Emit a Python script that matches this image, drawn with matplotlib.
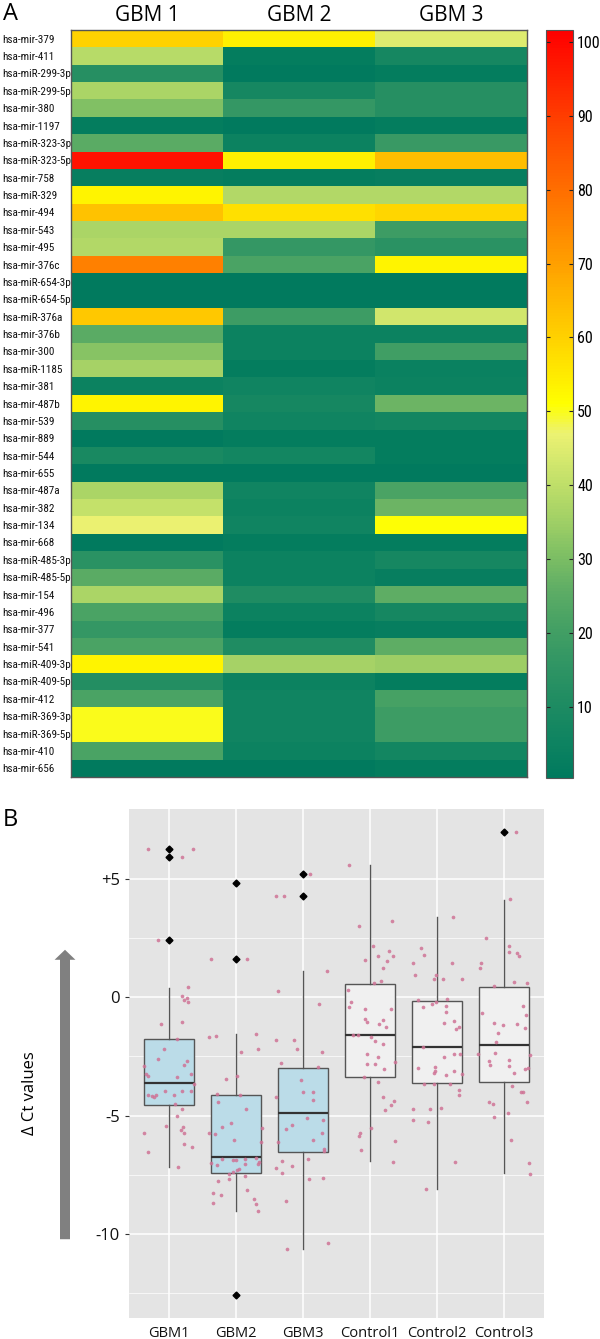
import matplotlib
matplotlib.use("Agg")
import matplotlib.pyplot as plt
import numpy as np
from matplotlib import font_manager
from matplotlib.colors import LinearSegmentedColormap
from matplotlib.patches import FancyArrowPatch

# ---- panel A: heatmap data ----
mirnas = ["hsa-mir-379", "hsa-mir-411", "hsa-miR-299-3p", "hsa-miR-299-5p", "hsa-mir-380",
          "hsa-mir-1197", "hsa-miR-323-3p", "hsa-miR-323-5p", "hsa-mir-758", "hsa-miR-329",
          "hsa-mir-494", "hsa-mir-543", "hsa-mir-495", "hsa-mir-376c", "hsa-miR-654-3p",
          "hsa-miR-654-5p", "hsa-miR-376a", "hsa-mir-376b", "hsa-mir-300", "hsa-miR-1185",
          "hsa-mir-381", "hsa-mir-487b", "hsa-mir-539", "hsa-mir-889", "hsa-mir-544",
          "hsa-mir-655", "hsa-mir-487a", "hsa-mir-382", "hsa-mir-134", "hsa-mir-668",
          "hsa-miR-485-3p", "hsa-miR-485-5p", "hsa-mir-154", "hsa-mir-496", "hsa-mir-377",
          "hsa-mir-541", "hsa-miR-409-3p", "hsa-miR-409-5p", "hsa-mir-412", "hsa-miR-369-3p",
          "hsa-miR-369-5p", "hsa-mir-410", "hsa-mir-656"]
samples = ["GBM 1", "GBM 2", "GBM 3"]
gbm1 = [60, 39, 13, 37, 31, 2, 25, 98, 3, 53, 63, 37, 38, 76, 1, 1, 62, 25, 32, 36, 5, 53,
        13, 1, 9, 1, 37, 41, 47, 1, 14, 25, 37, 22, 17, 22, 53, 12, 22, 50, 50, 22, 1]
gbm2 = [54, 2, 1, 8, 17, 1, 5, 54, 2, 38, 57, 37, 17, 22, 1, 1, 19, 5, 5, 2, 6, 8,
        6, 2, 7, 1, 6, 5, 6, 2, 5, 5, 11, 5, 2, 11, 36, 5, 6, 6, 6, 5, 1]
gbm3 = [45, 8, 2, 13, 13, 2, 18, 64, 3, 38, 59, 19, 14, 53, 1, 1, 43, 5, 20, 4, 5, 28,
        7, 2, 2, 1, 22, 28, 51, 2, 8, 3, 26, 8, 3, 26, 35, 2, 21, 19, 19, 7, 2]
cbar_ticks = [10, 20, 30, 40, 50, 60, 70, 80, 90, 100]

# ---- panel B: box plot data ----
groups = ["GBM1", "GBM2", "GBM3", "Control1", "Control2", "Control3"]
q1 = [-4.54, -7.44, -6.53, -3.39, -3.64, -3.57]
med = [-3.64, -6.76, -4.89, -1.59, -2.10, -2.03]
q3 = [-1.77, -4.15, -2.97, 0.55, -0.14, 0.43]
whislo = [-7.16, -9.02, -10.63, -6.93, -8.11, -7.44]
whishi = [0.41, -1.56, 1.11, 5.6, 3.40, 4.12]
fliers = [[6.27, 5.92, 2.43], [4.84, 1.62, -12.59], [5.22, 4.26], [], [], [6.96]]

# jittered points: (x offset, value)
pts_gbm1 = [(-0.32, 6.27), (0.19, 5.92), (0.35, 6.27), (-0.16, 2.43), (0.28, 0.42), (0.19, 0.07),
            (0.22, -0.12), (0.27, -0.05), (0.28, -0.22), (0.19, -1.04), (-0.12, -1.15), (0.12, -1.76),
            (-0.08, -2.18), (-0.16, -2.62), (0.26, -2.69), (0.22, -2.88), (-0.38, -2.90), (-0.34, -3.24),
            (-0.32, -3.33), (0.12, -3.36), (0.33, -3.25), (-0.25, -4.16), (-0.22, -4.2), (-0.32, -4.12),
            (-0.2, -4.12), (0.07, -4.14), (-0.06, -3.97), (0.19, -3.97), (0.33, -3.97), (0.37, -3.67),
            (0.08, -4.5), (0.19, -4.72), (0.12, -5.0), (-0.05, -5.43), (0.2, -5.5), (0.18, -5.63),
            (0.22, -5.75), (-0.38, -5.75), (-0.32, -6.54), (0.22, -6.22), (0.34, -6.33), (0.13, -7.17)]
pts_gbm2 = [(-0.38, 1.62), (0.16, 1.62), (-0.41, -1.70), (-0.30, -1.63), (0.08, -2.33), (0.29, -1.55),
            (0.32, -2.18), (-0.15, -3.46), (0.02, -3.32), (-0.28, -4.08), (0.06, -4.12), (-0.27, -4.43),
            (0.15, -4.71), (-0.07, -5.33), (-0.21, -5.47), (0.39, -5.51), (0.37, -6.12), (-0.41, -5.75),
            (-0.31, -5.79), (-0.03, -6.05), (-0.21, -6.84), (-0.05, -6.88), (0.0, -6.88), (0.13, -6.84),
            (0.29, -6.81), (0.34, -6.98), (-0.37, -7.0), (-0.28, -7.07), (0.14, -7.05), (0.33, -7.03),
            (0.02, -7.3), (0.05, -7.25), (-0.05, -7.38), (-0.1, -7.45), (0.13, -7.57), (-0.1, -7.67),
            (-0.27, -7.76), (0.17, -8.16), (-0.35, -8.27), (-0.22, -8.35), (0.26, -8.52), (0.30, -8.73),
            (-0.35, -8.70), (0.32, -9.03)]
pts_gbm3 = [(-0.41, 4.27), (-0.28, 4.27), (0.1, 5.22), (0.36, 1.11), (-0.37, 0.25), (0.24, -0.28),
            (-0.41, -1.81), (-0.13, -1.81), (-0.09, -2.18), (-0.33, -2.76), (0.29, -2.31), (0.23, -2.94),
            (-0.41, -4.2), (-0.37, -6.13), (-0.32, -6.9), (-0.4, -7.23), (-0.32, -7.41), (-0.16, -7.12),
            (-0.25, -8.59), (-0.24, -10.65), (-0.16, -5.39), (-0.25, -5.58), (0.07, -6.84), (0.09, -7.69),
            (0.30, -7.62), (0.37, -10.37), (0.30, -5.18), (0.29, -5.75), (0.15, -6.05), (0.31, -6.43),
            (0.32, -6.5), (0.15, -4.0), (0.15, -4.35), (0.06, -5.09), (0.0, -4.0), (-0.03, -3.49)]
pts_ctrl1 = [(-0.31, 5.6), (-0.16, 3.01), (0.33, 3.24), (0.05, 2.15), (-0.08, 1.57), (0.12, 1.73),
             (0.28, 1.94), (0.34, 1.76), (0.25, 1.53), (0.2, 1.25), (0.17, 0.68), (0.06, 0.59),
             (-0.33, 0.32), (-0.29, -0.22), (-0.31, -0.43), (-0.07, -0.51), (0.31, -0.51), (-0.07, -0.91),
             (-0.04, -1.04), (0.2, -0.97), (0.13, -1.15), (0.24, -1.24), (-0.26, -1.59), (-0.18, -1.59),
             (0.01, -1.67), (0.08, -1.83), (0.19, -1.98), (-0.04, -2.39), (0.12, -2.52), (-0.04, -2.80),
             (0.07, -2.80), (0.37, -2.73), (0.21, -3.05), (-0.09, -3.36), (0.12, -3.6), (0.19, -4.2),
             (0.23, -4.75), (0.32, -4.57), (0.36, -4.39), (-0.15, -5.73), (-0.17, -5.86), (-0.14, -6.47),
             (0.01, -5.51), (0.38, -6.07), (0.34, -6.95)]
pts_ctrl2 = [(-0.24, 2.08), (-0.2, 1.78), (0.24, 3.40), (-0.35, 1.43), (-0.32, 0.93), (0.22, 1.43),
             (0.37, 0.75), (-0.01, 0.93), (-0.04, 0.79), (0.09, 0.75), (-0.28, -0.10), (-0.21, -0.43),
             (-0.08, -0.28), (-0.02, -0.21), (0.15, -0.08), (0.14, -0.38), (0.14, -0.62), (0.11, -1.11),
             (0.26, -1.0), (0.28, -1.34), (0.33, -1.25), (-0.21, -2.10), (0.10, -2.54), (0.26, -2.41),
             (0.35, -2.38), (-0.28, -3.0), (-0.03, -2.95), (-0.03, -3.1), (-0.04, -3.2), (0.13, -3.3),
             (0.26, -3.1), (0.38, -3.25), (-0.36, -4.73), (-0.35, -5.19), (-0.13, -5.29), (-0.1, -4.73),
             (0.06, -4.68), (0.27, -6.97), (-0.17, -8.11), (0.33, -3.92), (0.33, -4.11), (-0.2, -3.65),
             (-0.05, -3.65), (0.2, -3.65)]
pts_ctrl3 = [(0.18, 6.97), (0.09, 4.14), (-0.27, 2.52), (0.08, 2.18), (0.08, 1.90), (0.2, 1.88),
             (0.23, 1.76), (-0.34, 1.43), (-0.35, 1.22), (-0.15, 0.46), (0.15, 0.65), (0.34, 0.60),
             (-0.33, -0.65), (0.28, -0.37), (0.33, -0.76), (-0.15, -1.08), (-0.01, -1.19), (0.19, -1.13),
             (0.31, -1.28), (-0.08, -1.51), (-0.12, -1.91), (-0.38, -2.38), (-0.13, -2.35), (0.39, -2.45),
             (-0.22, -2.70), (-0.2, -2.85), (0.08, -2.66), (0.07, -2.9), (0.15, -3.2), (0.32, -3.05),
             (0.36, -3.0), (-0.22, -4.43), (-0.16, -4.49), (-0.14, -5.08), (0.06, -4.87), (0.1, -6.05),
             (0.12, -3.74), (0.26, -4.02), (0.29, -4.0), (0.34, -4.43), (0.38, -7.02), (0.39, -7.46)]
points = [pts_gbm1, pts_gbm2, pts_gbm3, pts_ctrl1, pts_ctrl2, pts_ctrl3]
box_fill = ["#BBDCE8", "#BBDCE8", "#BBDCE8", "#F0F0F0", "#F0F0F0", "#F0F0F0"]

sans = ["Open Sans", "DejaVu Sans"]


# look for a narrow/condensed face for the heatmap labels
def find_narrow():
    prefs = ["Liberation Sans Narrow", "Roboto Condensed", "Noto Sans", "DejaVu Sans",
             "Open Sans", "Roboto", "Inter", "Lato"]
    found = []
    for f in font_manager.fontManager.ttflist:
        st = f.stretch
        narrowish = ("Narrow" in f.name or "Condensed" in f.name or "Narrow" in f.fname
                     or "Condensed" in f.fname
                     or st in ("condensed", "semi-condensed", "extra-condensed")
                     or (isinstance(st, int) and st < 500))
        if not narrowish or f.style != "normal":
            continue
        if f.weight not in (400, "normal", "regular", "book"):
            continue
        if "Semi" in f.fname or "Extra" in f.fname or "Ultra" in f.fname:
            continue
        rank = len(prefs)
        for i, p in enumerate(prefs):
            if f.name.startswith(p):
                rank = i
                break
        found.append((rank, f.fname))
    if found:
        found.sort()
        return found[0][1]
    return None


narrow_file = find_narrow()


def nfont(size):
    if narrow_file:
        return font_manager.FontProperties(fname=narrow_file, size=size)
    return font_manager.FontProperties(family="Liberation Sans", size=size * 0.82)


fig = plt.figure(figsize=(6, 13.39), dpi=100)
W, H = 600, 1339


def px_axes(x0, y0, x1, y1):
    return fig.add_axes([x0 / W, 1 - y1 / H, (x1 - x0) / W, (y1 - y0) / H])


# ---- heatmap ----
cmap = LinearSegmentedColormap.from_list("gy", [
    (0.00, "#007A5E"), (0.05, "#0F8461"), (0.10, "#1F8C62"), (0.15, "#309564"),
    (0.20, "#44A064"), (0.25, "#5EAD65"), (0.30, "#80C064"), (0.35, "#A5D266"),
    (0.40, "#C4E16A"), (0.46, "#ECF272"), (0.50, "#FFFF00"), (0.55, "#FFE600"),
    (0.60, "#FFCC00"), (0.65, "#FFB300"), (0.75, "#FF8000"), (0.85, "#FF5000"),
    (1.00, "#FF0000")])
data = np.array([gbm1, gbm2, gbm3]).T

ax = px_axes(71, 30, 527, 777)
im = ax.imshow(data, aspect="auto", cmap=cmap, vmin=0.4, vmax=101.6, interpolation="nearest")
ax.set_yticks(range(len(mirnas)))
ax.set_yticklabels(mirnas, fontproperties=nfont(8), color="#111111")
for lab in ax.get_yticklabels():
    lab.set_horizontalalignment("left")
    lab.set_x(-69 / 456)
ax.xaxis.tick_top()
ax.set_xticks(range(len(samples)))
ax.set_xticklabels(samples, family=sans, fontsize=15)
ax.tick_params(length=0, pad=0)
ax.tick_params(axis="x", pad=3)
for s in ax.spines.values():
    s.set_color("#555555")
    s.set_linewidth(1)

cax = px_axes(546, 30, 573, 778)
cb = fig.colorbar(im, cax=cax, ticks=cbar_ticks)
cax.tick_params(direction="in", left=True, right=True, length=3, width=0.8, color="#222222", pad=3)
cax.set_yticklabels([str(t) for t in cbar_ticks], fontproperties=nfont(11.5))
cb.outline.set_edgecolor("#555555")

fig.text(3 / W, 1 - 14 / H, "A", fontsize=17, family=sans, va="center", ha="left")

# ---- box plot ----
bx = px_axes(129, 809, 544, 1318)
bx.set_facecolor("#E4E4E4")
xs = np.arange(1, len(groups) + 1)

stats = []
for i in range(len(groups)):
    stats.append(dict(q1=q1[i], med=med[i], q3=q3[i], whislo=whislo[i], whishi=whishi[i],
                      fliers=fliers[i], label=groups[i]))
bp = bx.bxp(stats, positions=xs, widths=0.75, patch_artist=True, showcaps=False,
            boxprops=dict(edgecolor="#555555", linewidth=1.0),
            whiskerprops=dict(color="#555555", linewidth=1.0),
            medianprops=dict(color="#333333", linewidth=1.6),
            flierprops=dict(marker="D", markersize=3.5, markerfacecolor="black",
                            markeredgecolor="black"))
for patch, fc in zip(bp["boxes"], box_fill):
    patch.set_facecolor(fc)

for x, pts in zip(xs, points):
    dx = np.array([p[0] for p in pts])
    vy = np.array([p[1] for p in pts])
    bx.scatter(x + dx, vy, s=7, color="#CF7396", alpha=0.85, lw=0, zorder=5)

bx.set_xlim(0.4, 6.6)
bx.set_ylim(-13.55, 7.95)
bx.set_yticks([-10, -5, 0, 5])
bx.set_yticklabels(["-10", "-5", "0", "+5"], family=sans, fontsize=12)
bx.set_yticks([-12.5, -7.5, -2.5, 2.5], minor=True)
bx.set_xticks(xs)
bx.set_xticklabels(groups, family=sans, fontsize=10.5)
bx.grid(True, which="major", color="white", lw=1.1)
bx.grid(True, which="minor", axis="y", color="white", lw=0.5)
bx.set_axisbelow(True)
bx.tick_params(which="major", length=3, color="#333333", width=0.8, labelcolor="#111111")
bx.tick_params(which="minor", length=0)
bx.tick_params(axis="x", length=0, pad=6)
for s in bx.spines.values():
    s.set_visible(False)

fig.text(3 / W, 1 - 820 / H, "B", fontsize=17, family=sans, va="center", ha="left")
fig.text(30 / W, 1 - 1093 / H, "\u0394 Ct values", fontsize=12, family=sans, rotation=90,
         va="center", ha="center")

arrow = FancyArrowPatch((65, H - 1242), (65, H - 947), transform=None,
                        arrowstyle="simple,head_length=0.72,head_width=1.5,tail_width=0.72",
                        mutation_scale=10, color="#808080", lw=0)
fig.add_artist(arrow)

fig.savefig("out.png", dpi=100)
